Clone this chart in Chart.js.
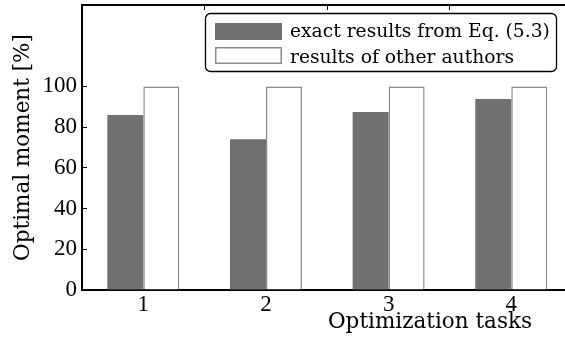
<!DOCTYPE html>
<html>
<head>
<meta charset="utf-8">
<script src="https://cdn.jsdelivr.net/npm/chart.js@4.4.1/dist/chart.umd.min.js"></script>
<style>
  html, body { margin: 0; padding: 0; background: #fff; overflow: hidden; }
  #wrap { width: 580px; height: 343px; }
</style>
</head>
<body>
<div id="wrap"><canvas id="c" width="580" height="343"></canvas></div>
<script>
// Optimization tasks and the optimal moment (percent) for each approach
const tasks = ['1', '2', '3', '4'];
const seriesNames = ['exact results from Eq. (5.3)', 'results of other authors'];
const exactResults = [86, 74, 87.4, 93.8];
const otherAuthors = [100, 100, 100, 100];
const yTickValues = [0, 20, 40, 60, 80, 100];
const yMax = 140;
const xTitle = 'Optimization tasks';
const yTitle = 'Optimal moment [%]';

const TEXT_FONT = 'DejaVu Serif';
const NUM_FONT = 'Liberation Serif';

// Framed legend in the upper right and the x-axis caption
const decorations = {
  id: 'decorations',
  afterDraw(chart) {
    const ctx = chart.ctx;
    ctx.save();

    // caption under the tick labels
    ctx.font = '21.5px "' + TEXT_FONT + '"';
    ctx.fillStyle = '#000';
    ctx.textAlign = 'center';
    ctx.textBaseline = 'alphabetic';
    ctx.fillText(xTitle, 430, 328);

    // legend frame
    const bx = 205, by = 13, bw = 351, bh = 58, r = 5;
    ctx.beginPath();
    ctx.roundRect(bx + 0.5, by + 0.5, bw, bh, r);
    ctx.fillStyle = '#fff';
    ctx.fill();
    ctx.lineWidth = 1.3;
    ctx.strokeStyle = '#000';
    ctx.stroke();

    ctx.font = '18.7px "' + TEXT_FONT + '"';
    ctx.textAlign = 'left';
    chart.data.datasets.forEach((ds, i) => {
      const py = 23 + i * 24;
      ctx.fillStyle = ds.backgroundColor;
      ctx.fillRect(215, py, 67, 17);
      if (ds.borderWidth) {
        ctx.lineWidth = ds.borderWidth;
        ctx.strokeStyle = ds.borderColor;
        ctx.strokeRect(215.75, py + 0.75, 65.5, 15.5);
      }
      ctx.fillStyle = '#000';
      ctx.fillText(ds.label, 290, 37 + i * 25.5);
    });
    ctx.restore();
  }
};

new Chart(document.getElementById('c'), {
  type: 'bar',
  data: {
    labels: tasks,
    datasets: [
      {
        label: seriesNames[0],
        data: exactResults,
        backgroundColor: '#707070',
        borderColor: '#707070',
        borderWidth: 0,
        categoryPercentage: 0.587,
        barPercentage: 1
      },
      {
        label: seriesNames[1],
        data: otherAuthors,
        backgroundColor: '#ffffff',
        borderColor: '#8a8a8a',
        borderWidth: 1.5,
        categoryPercentage: 0.587,
        barPercentage: 1
      }
    ]
  },
  options: {
    responsive: false,
    animation: false,
    devicePixelRatio: 1,
    layout: { padding: { top: 5, right: 7.4, bottom: 0, left: 0 } },
    plugins: {
      legend: { display: false },
      tooltip: { enabled: false }
    },
    scales: {
      x: {
        type: 'category',
        position: 'bottom',
        z: 1,
        grid: { drawOnChartArea: false, drawTicks: true, tickLength: -5, color: 'rgba(0,0,0,0)' },
        border: { display: true, color: '#000', width: 2 },
        ticks: { color: '#000', padding: 6, font: { family: NUM_FONT, size: 23 } },
        afterFit(scale) {
          scale.height = 53;
          scale.paddingLeft = 0;
          scale.paddingRight = 0;
        }
      },
      x2: {
        type: 'category',
        position: 'top',
        labels: tasks,
        grid: { drawOnChartArea: false, drawTicks: true, tickLength: -5, color: '#000', lineWidth: 1 },
        border: { display: true, color: '#000', width: 2 },
        ticks: { display: false },
        afterFit(scale) {
          scale.height = 0;
          scale.paddingLeft = 0;
          scale.paddingRight = 0;
        }
      },
      y: {
        min: 0,
        max: yMax,
        z: 1,
        afterBuildTicks(scale) {
          scale.ticks = yTickValues.map(v => ({ value: v }));
        },
        grid: { drawOnChartArea: false, drawTicks: true, tickLength: -5, color: '#000', lineWidth: 1 },
        border: { display: true, color: '#000', width: 2 },
        ticks: { color: '#000', padding: 10, font: { family: NUM_FONT, size: 23 } },
        title: {
          display: true,
          text: yTitle,
          color: '#000',
          font: { family: TEXT_FONT, size: 21.5 },
          padding: { top: 11, bottom: 0 }
        },
        afterFit(scale) {
          scale.width = 82;
          scale.paddingTop = 0;
          scale.paddingBottom = 0;
        }
      }
    }
  },
  plugins: [decorations]
});
</script>
</body>
</html>
